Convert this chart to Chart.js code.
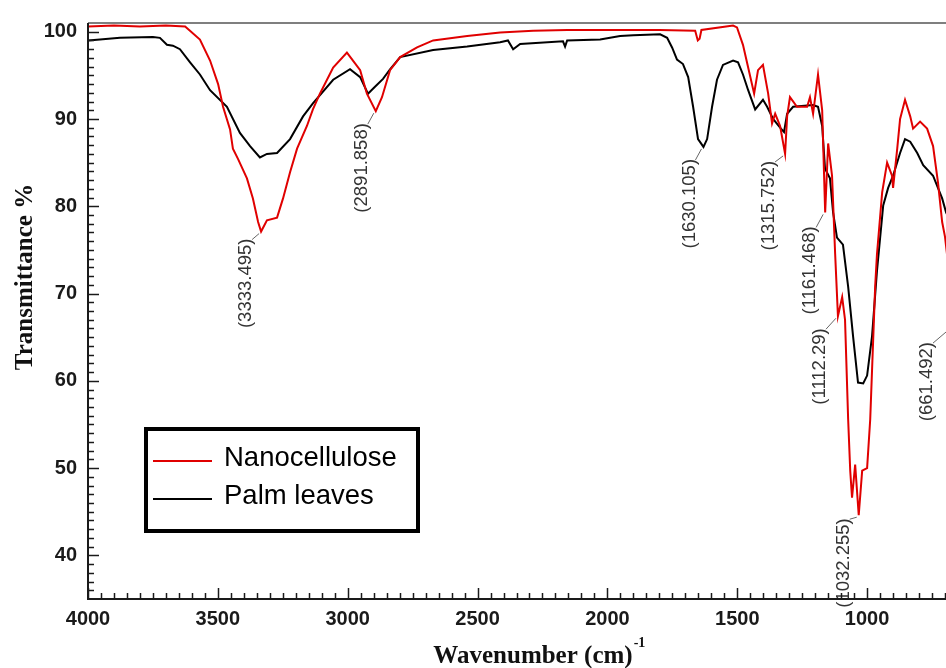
<!DOCTYPE html>
<html>
<head>
<meta charset="utf-8">
<title>FTIR spectra</title>
<script src="https://cdn.jsdelivr.net/npm/chart.js@4.4.1/dist/chart.umd.min.js"></script>
<style>
  html, body { margin: 0; padding: 0; background: #fff; overflow: hidden; }
  #wrap { width: 958px; height: 668px; }
</style>
</head>
<body>
<div id="wrap"><canvas id="canvas" width="958" height="668"></canvas></div>
<script>
// Nanocellulose spectrum (wavenumber, transmittance %)
var nanoX = [4000, 3900, 3800, 3700, 3626, 3569, 3530, 3499, 3480, 3453, 3442, 3422, 3388, 3365, 3345,
    3333.495, 3311, 3272, 3249, 3222, 3195, 3157, 3134, 3107, 3056, 3003, 2952, 2926, 2891.858, 2868,
    2837, 2798, 2733, 2671, 2540, 2413, 2286, 2155, 1951, 1800, 1662, 1652, 1645, 1638, 1516, 1501,
    1478, 1458, 1435, 1420, 1401, 1381, 1366, 1354, 1335, 1315.752, 1308, 1297, 1270, 1231, 1220, 1208,
    1189, 1173, 1161.468, 1150, 1135, 1123, 1112.29, 1096, 1085, 1073, 1065, 1058, 1046, 1032.255,
    1019, 1000, 988, 969, 962, 942, 923, 904, 900, 884, 873, 854, 834, 823, 796, 769, 746, 727, 711,
    700, 661.492, 650];
var nanoY = [100.6, 100.7, 100.6, 100.7, 100.6, 99.1, 96.7, 94.0, 91.4, 88.8, 86.6, 85.4, 83.2, 80.9, 78.2,
    77.1, 78.4, 78.7, 80.9, 83.9, 86.6, 89.2, 91.1, 92.9, 95.9, 97.6, 95.6, 92.9, 90.9, 92.5,
    95.6, 97.1, 98.2, 99.0, 99.5, 99.9, 100.1, 100.2, 100.2, 100.2, 100.1, 99.0, 99.2, 100.2, 100.7, 100.5,
    98.5, 95.9, 92.9, 95.6, 96.2, 92.9, 89.5, 90.6, 89.2, 86.0, 90.3, 92.5, 91.4, 91.4, 92.5, 90.6,
    95.1, 91.0, 79.3, 87.2, 83.5, 74.5, 67.4, 69.6, 67.0, 55.6, 49.7, 46.6, 50.4, 44.6,
    49.7, 50.0, 55.6, 70.8, 74.5, 81.6, 85.0, 83.5, 82.1, 86.6, 90.0, 92.2, 90.3, 88.9, 89.7, 88.9, 86.9, 82.7, 78.2,
    76.5, 66.5, 68.0];

// Palm leaves spectrum
var palmX = [4000, 3954, 3877, 3750, 3723, 3696, 3673, 3646, 3607, 3569, 3530, 3465, 3415, 3376, 3338,
    3311, 3272, 3222, 3172, 3134, 3056, 2991, 2952, 2922, 2895, 2864, 2837, 2798, 2671, 2540, 2413,
    2383, 2363, 2336, 2171, 2163, 2155, 2028, 1951, 1900, 1797, 1770, 1751, 1732, 1709, 1689, 1670,
    1651, 1630.105, 1616, 1597, 1578, 1555, 1516, 1497, 1478, 1458, 1431, 1401, 1385, 1362, 1335, 1320,
    1308, 1285, 1208, 1189, 1173, 1162, 1143, 1131, 1116, 1093, 1073, 1054, 1035, 1015, 1000, 981,
    962, 938, 919, 900, 873, 854, 834, 807, 784, 746, 711, 696, 650];
var palmY = [99.0, 99.1, 99.3, 99.4, 99.3, 98.5, 98.4, 98.0, 96.5, 95.1, 93.3, 91.4, 88.4, 86.9, 85.6,
    86.0, 86.1, 87.7, 90.3, 91.8, 94.5, 95.7, 94.8, 92.9, 93.7, 94.6, 95.7, 97.1, 97.9, 98.3, 98.8,
    99.0, 98.0, 98.6, 98.9, 98.3, 99.0, 99.1, 99.5, 99.6, 99.7, 99.3, 98.2, 96.8, 96.3, 94.8, 91.4,
    87.7, 86.8, 87.7, 91.4, 94.5, 96.2, 96.7, 96.5, 95.1, 93.3, 91.1, 92.2, 91.4, 90.0, 89.0, 88.5,
    90.6, 91.4, 91.6, 91.4, 89.2, 84.3, 83.2, 79.3, 76.4, 75.6, 70.8, 65.1, 59.8, 59.7, 60.6, 65.1,
    72.6, 80.1, 82.1, 83.5, 86.1, 87.7, 87.4, 86.1, 84.7, 83.5, 80.9, 79.3, 76.5];

var xTicks = [4000, 3500, 3000, 2500, 2000, 1500, 1000];
var yTicks = [40, 50, 60, 70, 80, 90, 100];

// labelled peaks: wavenumber and which dataset it sits on (0 = nano, 1 = palm)
var peakWavenumbers = [3333.495, 2891.858, 1630.105, 1315.752, 1161.468, 1112.29, 1032.255, 661.492];
var peakSeries = [0, 0, 1, 0, 0, 0, 0, 0];
// where the rotated text starts, relative to the peak
var peakTextOffset = [[-15, 7], [-14, 12], [-14, 12], [-16, 7], [-15, 14], [-18, 12], [-15, 3], [-28, 18]];

var sans = 'Liberation Sans, Arial, sans-serif';
var serif = 'Liberation Serif, Times New Roman, serif';

function line(ctx, x1, y1, x2, y2) {
    ctx.beginPath();
    ctx.moveTo(x1, y1);
    ctx.lineTo(x2, y2);
    ctx.stroke();
}

// axis lines, inward ticks, titles and the boxed legend
var framePlugin = {
    id: 'frame',
    afterDraw: function(chart) {
        var ctx = chart.ctx;
        var area = chart.chartArea;
        var xs = chart.scales.x, ys = chart.scales.y;
        ctx.save();

        ctx.strokeStyle = '#555';
        ctx.lineWidth = 1.5;
        line(ctx, area.left, area.top, area.right, area.top);

        ctx.strokeStyle = '#1a1a1a';
        ctx.lineWidth = 2;
        line(ctx, area.left, area.top, area.left, area.bottom + 1);
        line(ctx, area.left - 1, area.bottom, area.right, area.bottom);

        ctx.lineWidth = 1.5;
        for (var v = 36; v <= 100; v++) {
            var py = Math.round(ys.getPixelForValue(v)) + 0.5;
            line(ctx, area.left, py, area.left + (v % 10 === 0 ? 11 : 6), py);
        }
        for (var w = 700; w <= 4000; w += 50) {
            var px = Math.round(xs.getPixelForValue(w)) + 0.5;
            line(ctx, px, area.bottom, px, area.bottom - (w % 500 === 0 ? 11 : 6));
        }

        // axis titles
        ctx.fillStyle = '#111';
        ctx.font = 'bold 25px ' + serif;
        ctx.textBaseline = 'middle';
        ctx.save();
        ctx.translate(26, 277);
        ctx.rotate(-Math.PI / 2);
        ctx.textAlign = 'center';
        ctx.fillText('Transmittance %', 0, 0);
        ctx.restore();

        var main = 'Wavenumber (cm)';
        var mainW = ctx.measureText(main).width;
        ctx.textAlign = 'left';
        var tx = 538 - (mainW + 10) / 2;
        ctx.fillText(main, tx, 657);
        ctx.font = 'bold 14px ' + serif;
        ctx.fillText('-1', tx + mainW + 1, 643);

        // legend
        ctx.strokeStyle = '#000';
        ctx.lineWidth = 4;
        ctx.strokeRect(146, 429, 272, 102);
        ctx.font = '27.5px ' + sans;
        ctx.textAlign = 'left';
        var rows = [461, 499];
        chart.data.datasets.forEach(function(ds, i) {
            ctx.strokeStyle = ds.borderColor;
            ctx.lineWidth = 2;
            line(ctx, 153, rows[i], 212, rows[i]);
            ctx.fillStyle = '#000';
            ctx.fillText(ds.label, 224, rows[i] - 3);
        });

        ctx.restore();
    }
};

// peak labels, rotated, with a short leader line back to the curve
var peakPlugin = {
    id: 'peaks',
    afterDatasetsDraw: function(chart) {
        var ctx = chart.ctx;
        ctx.save();
        ctx.font = '18.5px ' + sans;
        ctx.fillStyle = '#333';
        ctx.strokeStyle = '#666';
        ctx.lineWidth = 1;
        ctx.textAlign = 'right';
        ctx.textBaseline = 'middle';
        peakWavenumbers.forEach(function(w, i) {
            var ds = chart.data.datasets[peakSeries[i]];
            var idx = ds.data.findIndex(function(p) { return p.x === w; });
            var pt = chart.getDatasetMeta(peakSeries[i]).data[idx];
            var tx = pt.x + peakTextOffset[i][0];
            var ty = pt.y + peakTextOffset[i][1];
            line(ctx, pt.x - 2, pt.y + 2, tx + 6, ty + 1);
            ctx.save();
            ctx.translate(tx, ty);
            ctx.rotate(-Math.PI / 2);
            ctx.fillText('(' + String(w) + ')', 0, 0);
            ctx.restore();
        });
        ctx.restore();
    }
};

function toPoints(xs, ys) {
    return xs.map(function(x, i) { return { x: x, y: ys[i] }; });
}

var tickFont = { family: sans, size: 20, weight: 'bold' };

var ctx = document.getElementById('canvas').getContext('2d');
var chart = new Chart(ctx, {
    type: 'line',
    data: {
        datasets: [{
            label: 'Nanocellulose',
            data: toPoints(nanoX, nanoY),
            borderColor: '#e00000',
            borderWidth: 2,
            pointRadius: 0,
            tension: 0
        }, {
            label: 'Palm leaves',
            data: toPoints(palmX, palmY),
            borderColor: '#000000',
            borderWidth: 2,
            pointRadius: 0,
            tension: 0
        }]
    },
    options: {
        responsive: false,
        animation: false,
        events: [],
        layout: { padding: { top: 16, right: 0, left: 0, bottom: 0 } },
        plugins: {
            legend: { display: false },
            tooltip: { enabled: false }
        },
        scales: {
            x: {
                type: 'linear',
                reverse: true,
                min: 650,
                max: 4000,
                grid: { display: false, drawTicks: false },
                border: { display: false },
                ticks: {
                    font: tickFont, color: '#1a1a1a', padding: 8, autoSkip: false, maxRotation: 0,
                    callback: function(value) { return String(value); }
                },
                afterBuildTicks: function(scale) {
                    scale.ticks = xTicks.map(function(v) { return { value: v }; });
                },
                afterFit: function(scale) { scale.height = 69; }
            },
            y: {
                min: 35,
                max: 101,
                grid: { display: false, drawTicks: false },
                border: { display: false },
                ticks: {
                    font: tickFont, color: '#1a1a1a', padding: 11, autoSkip: false,
                    callback: function(value) { return String(value); }
                },
                afterBuildTicks: function(scale) {
                    scale.ticks = yTicks.map(function(v) { return { value: v }; });
                },
                afterFit: function(scale) { scale.width = 88; }
            }
        }
    },
    plugins: [framePlugin, peakPlugin]
});
</script>
</body>
</html>
